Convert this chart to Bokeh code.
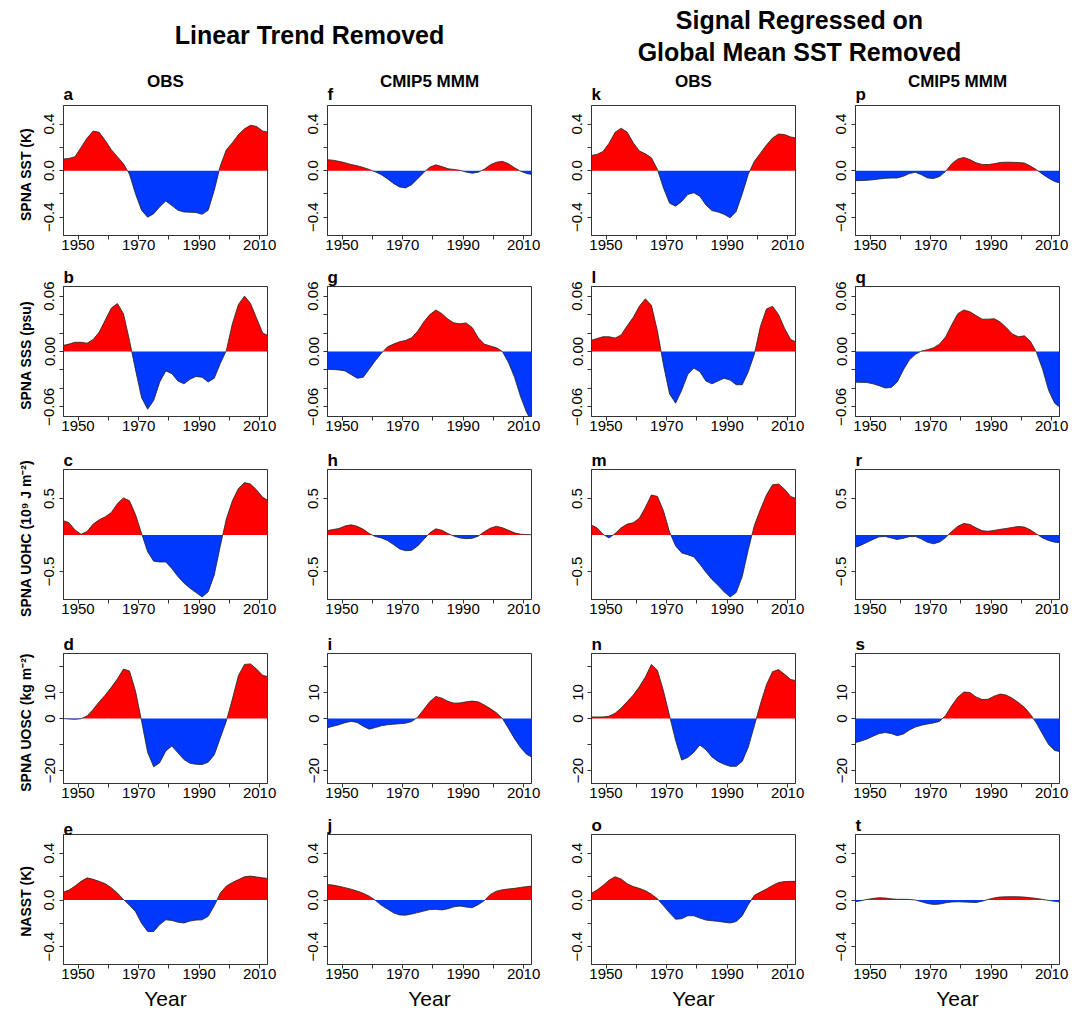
import json
import numpy as np
from bokeh.plotting import figure
from bokeh.models import Range1d, FixedTicker, CustomJSTickFormatter
from bokeh.layouts import column, row
from bokeh.embed import file_html
from bokeh.resources import INLINE
from bokeh.core.properties import value

FONT = "Liberation Sans"
RED = "#FF0000"
BLUE = "#0038FF"

years = list(range(1945, 2014, 2))

# ---- Linear trend removed: OBS ----
a_sst_obs = [0.10, 0.105, 0.12, 0.20, 0.28, 0.34, 0.33, 0.26, 0.18, 0.12, 0.06, -0.03, -0.20, -0.34, -0.40, -0.37, -0.31, -0.26, -0.30, -0.34, -0.355, -0.357, -0.36, -0.375, -0.34, -0.17, 0.04, 0.18, 0.24, 0.31, 0.36, 0.39, 0.38, 0.34, 0.33]
b_sss_obs = [0.0065, 0.008, 0.010, 0.010, 0.009, 0.013, 0.021, 0.034, 0.047, 0.052, 0.041, 0.012, -0.020, -0.050, -0.0625, -0.053, -0.033, -0.021, -0.024, -0.032, -0.035, -0.030, -0.027, -0.028, -0.033, -0.029, -0.013, 0.001, 0.030, 0.051, 0.060, 0.052, 0.036, 0.020, 0.017]
c_uohc_obs = [0.20, 0.17, 0.07, 0.01, 0.05, 0.15, 0.21, 0.25, 0.31, 0.43, 0.51, 0.47, 0.28, 0.02, -0.23, -0.36, -0.37, -0.37, -0.46, -0.57, -0.66, -0.73, -0.79, -0.85, -0.78, -0.55, -0.15, 0.22, 0.47, 0.64, 0.72, 0.70, 0.62, 0.52, 0.47]
d_uosc_obs = [0.0, -0.2, -0.3, -0.1, 1.0, 3.5, 6.4, 9.0, 12.0, 15.2, 19.0, 18.3, 10.5, -1.0, -13.0, -18.6, -17.0, -12.5, -10.6, -13.2, -15.8, -17.2, -17.6, -17.7, -16.8, -14.0, -7.5, -1.0, 7.5, 16.5, 20.8, 21.0, 19.0, 16.6, 16.0]
e_nasst_obs = [0.066, 0.085, 0.12, 0.16, 0.19, 0.178, 0.16, 0.14, 0.105, 0.06, 0.005, -0.045, -0.10, -0.20, -0.27, -0.27, -0.21, -0.17, -0.175, -0.19, -0.197, -0.18, -0.172, -0.17, -0.14, -0.05, 0.06, 0.12, 0.15, 0.175, 0.20, 0.205, 0.198, 0.19, 0.185]

# ---- Linear trend removed: CMIP5 MMM ----
f_sst_mmm = [0.095, 0.09, 0.08, 0.068, 0.053, 0.042, 0.028, 0.01, -0.01, -0.035, -0.07, -0.11, -0.14, -0.148, -0.12, -0.07, -0.015, 0.03, 0.05, 0.035, 0.017, 0.01, 0.003, -0.012, -0.022, -0.013, 0.012, 0.05, 0.073, 0.08, 0.06, 0.025, -0.005, -0.024, -0.034]
g_sss_mmm = [-0.0193, -0.0195, -0.020, -0.021, -0.025, -0.029, -0.028, -0.019, -0.010, -0.002, 0.005, 0.008, 0.0105, 0.012, 0.015, 0.022, 0.032, 0.040, 0.045, 0.041, 0.035, 0.031, 0.030, 0.031, 0.026, 0.015, 0.008, 0.006, 0.004, 0.0, -0.012, -0.028, -0.049, -0.066, -0.078]
h_uohc_mmm = [0.06, 0.075, 0.09, 0.125, 0.14, 0.12, 0.08, 0.02, -0.02, -0.04, -0.075, -0.13, -0.19, -0.215, -0.21, -0.15, -0.06, 0.03, 0.085, 0.065, 0.02, -0.015, -0.04, -0.05, -0.045, -0.015, 0.045, 0.095, 0.12, 0.1, 0.065, 0.03, 0.012, 0.006, 0.005]
i_uosc_mmm = [-3.6, -3.0, -2.4, -1.6, -1.1, -1.5, -3.0, -4.1, -3.5, -2.8, -2.4, -2.2, -2.0, -1.8, -1.2, 0.5, 3.5, 6.5, 8.5, 7.8, 6.6, 5.9, 6.0, 6.4, 6.7, 6.4, 5.2, 3.8, 2.2, 0.0, -3.8, -7.8, -11.2, -13.8, -15.0]
j_nasst_mmm = [0.133, 0.128, 0.118, 0.106, 0.093, 0.077, 0.058, 0.033, -0.002, -0.045, -0.078, -0.11, -0.128, -0.13, -0.12, -0.108, -0.095, -0.082, -0.08, -0.085, -0.075, -0.058, -0.052, -0.06, -0.066, -0.04, -0.005, 0.048, 0.076, 0.088, 0.095, 0.1, 0.108, 0.115, 0.12]

# ---- Global-mean-SST signal removed: OBS ----
k_sst_obs = [0.13, 0.14, 0.165, 0.235, 0.33, 0.365, 0.33, 0.24, 0.17, 0.145, 0.11, 0.01, -0.15, -0.28, -0.305, -0.265, -0.205, -0.19, -0.22, -0.295, -0.343, -0.355, -0.375, -0.405, -0.35, -0.2, -0.03, 0.08, 0.15, 0.22, 0.28, 0.315, 0.31, 0.29, 0.28]
l_sss_obs = [0.012, 0.014, 0.016, 0.016, 0.0145, 0.018, 0.028, 0.037, 0.049, 0.057, 0.05, 0.022, -0.015, -0.046, -0.056, -0.042, -0.025, -0.018, -0.022, -0.032, -0.035, -0.032, -0.029, -0.031, -0.036, -0.036, -0.022, -0.003, 0.027, 0.046, 0.049, 0.04, 0.025, 0.013, 0.01]
m_uohc_obs = [0.14, 0.10, 0.01, -0.04, 0.02, 0.10, 0.15, 0.17, 0.23, 0.38, 0.55, 0.53, 0.33, 0.04, -0.15, -0.245, -0.27, -0.30, -0.40, -0.51, -0.61, -0.69, -0.78, -0.85, -0.79, -0.57, -0.2, 0.13, 0.35, 0.55, 0.69, 0.70, 0.63, 0.53, 0.5]
n_uosc_obs = [0.6, 0.6, 0.6, 0.9, 2.0, 4.0, 6.5, 9.0, 12.2, 16.0, 20.8, 18.5, 10.5, 1.0, -8.5, -16.0, -15.0, -13.0, -10.2, -12.0, -14.8, -16.5, -17.6, -18.4, -18.4, -16.5, -11.0, -2.8, 5.5, 13.0, 18.0, 18.8, 17.0, 15.0, 14.5]
o_nasst_obs = [0.055, 0.085, 0.125, 0.17, 0.20, 0.18, 0.14, 0.115, 0.10, 0.08, 0.05, 0.01, -0.05, -0.11, -0.165, -0.16, -0.135, -0.135, -0.155, -0.172, -0.178, -0.183, -0.19, -0.197, -0.185, -0.135, -0.04, 0.04, 0.068, 0.095, 0.125, 0.15, 0.158, 0.16, 0.16]

# ---- Global-mean-SST signal removed: CMIP5 MMM ----
p_sst_mmm = [-0.086, -0.085, -0.083, -0.078, -0.071, -0.066, -0.063, -0.063, -0.048, -0.025, -0.014, -0.035, -0.062, -0.068, -0.05, -0.005, 0.06, 0.1, 0.114, 0.095, 0.068, 0.054, 0.052, 0.06, 0.07, 0.073, 0.072, 0.07, 0.066, 0.04, 0.008, -0.03, -0.065, -0.093, -0.108]
q_sss_mmm = [-0.0333, -0.0334, -0.0337, -0.035, -0.037, -0.0395, -0.039, -0.033, -0.02, -0.009, -0.003, 0.0005, 0.002, 0.004, 0.008, 0.016, 0.029, 0.041, 0.045, 0.043, 0.039, 0.035, 0.035, 0.0355, 0.032, 0.026, 0.019, 0.016, 0.017, 0.011, -0.001, -0.019, -0.042, -0.056, -0.061]
r_uohc_mmm = [-0.17, -0.14, -0.1, -0.06, -0.025, -0.02, -0.04, -0.062, -0.045, -0.022, -0.02, -0.055, -0.1, -0.12, -0.095, -0.035, 0.05, 0.12, 0.16, 0.145, 0.1, 0.06, 0.052, 0.064, 0.078, 0.09, 0.105, 0.118, 0.11, 0.07, 0.015, -0.04, -0.075, -0.098, -0.105]
s_uosc_mmm = [-9.3, -8.7, -7.9, -6.8, -5.8, -5.4, -5.8, -6.6, -6.0, -4.4, -3.3, -2.6, -2.1, -1.7, -1.1, 1.2, 5.0, 8.2, 10.2, 10.0, 8.3, 7.3, 7.4, 8.6, 9.4, 9.0, 7.8, 6.2, 4.3, 1.6, -1.8, -6.0, -10.0, -12.3, -12.8]
t_nasst_mmm = [-0.016, -0.006, 0.005, 0.014, 0.02, 0.017, 0.01, 0.006, 0.006, 0.005, 0.0, -0.015, -0.03, -0.038, -0.035, -0.024, -0.017, -0.015, -0.017, -0.019, -0.022, -0.01, 0.005, 0.018, 0.026, 0.028, 0.029, 0.028, 0.025, 0.02, 0.014, 0.005, -0.003, -0.011, -0.018]

panel_letters = [["a", "f", "k", "p"], ["b", "g", "l", "q"], ["c", "h", "m", "r"],
                 ["d", "i", "n", "s"], ["e", "j", "o", "t"]]
panel_data = [[a_sst_obs, f_sst_mmm, k_sst_obs, p_sst_mmm],
              [b_sss_obs, g_sss_mmm, l_sss_obs, q_sss_mmm],
              [c_uohc_obs, h_uohc_mmm, m_uohc_obs, r_uohc_mmm],
              [d_uosc_obs, i_uosc_mmm, n_uosc_obs, s_uosc_mmm],
              [e_nasst_obs, j_nasst_mmm, o_nasst_obs, t_nasst_mmm]]
row_ylabels = ["SPNA  SST  (K)", "SPNA  SSS  (psu)", "SPNA  UOHC  (10\u2079 J m\u207B\u00B2)",
               "SPNA  UOSC  (kg m\u207B\u00B2)", "NASST  (K)"]
row_ylims = [(-0.557, 0.56), (-0.0704, 0.0704), (-0.885, 0.9), (-25.0, 25.0), (-0.553, 0.562)]
row_yticks = [[-0.4, -0.2, 0, 0.2, 0.4], [-0.06, -0.04, -0.02, 0, 0.02, 0.04, 0.06],
              [-0.5, 0.5], [-20, -10, 0, 10, 20], [-0.4, -0.2, 0, 0.2, 0.4]]
row_yticklabels = [["\u22120.4", "", "0.0", "", "0.4"],
                   ["\u22120.06", "", "", "0.00", "", "", "0.06"],
                   ["\u22120.5", "0.5"],
                   ["\u221220", "", "0", "10", ""],
                   ["\u22120.4", "", "0.0", "", "0.4"]]
xticks = [1950, 1960, 1970, 1980, 1990, 2000, 2010]
xticklabels = ["1950", "", "1970", "", "1990", "", "2010"]
col_headers = ["OBS", "CMIP5 MMM", "OBS", "CMIP5 MMM"]
title_left = "Linear Trend Removed"
title_right = ["Signal Regressed on", "Global Mean SST Removed"]

XLIM = (1945.2, 2012.6)
FW, FH = 204, 130
col_lr = [(63, 10), (50, 10), (50, 10), (50, 10)]
row_tb = [(1, 24), (27, 24), (29, 24), (30, 24), (27, 48)]
HEAD_H = 104


def fmt(ticks, labels):
    m = {str(int(round(t * 1000))): l for t, l in zip(ticks, labels)}
    return CustomJSTickFormatter(code="const m = %s; const k = String(Math.round(tick*1000)); return (k in m) ? m[k] : '';" % json.dumps(m))


def split_zero(x, y):
    xs, ys = [x[0]], [y[0]]
    for i in range(1, len(x)):
        y0, y1 = y[i - 1], y[i]
        if y0 * y1 < 0:
            xs.append(x[i - 1] + (x[i] - x[i - 1]) * y0 / (y0 - y1))
            ys.append(0.0)
        xs.append(x[i])
        ys.append(y[i])
    return np.array(xs, dtype=float), np.array(ys, dtype=float)


total_w = sum(l + FW + r for l, r in col_lr)

# header: big titles, column headers and the first row's panel letters (pixel coordinates)
head = figure(frame_width=total_w, frame_height=HEAD_H, x_range=Range1d(0, total_w), y_range=Range1d(0, HEAD_H),
              x_axis_type=None, y_axis_type=None, toolbar_location=None, output_backend="svg",
              min_border=0, outline_line_color=None)
head.grid.visible = False


def hy(page_y):
    return HEAD_H - page_y


head.text(x=[309], y=[hy(34)], text=[title_left], text_font=value(FONT), text_font_style="bold",
          text_font_size="25px", text_align="center", text_baseline="middle", text_color="black")
head.text(x=[799, 799], y=[hy(19), hy(51)], text=title_right, text_font=value(FONT), text_font_style="bold",
          text_font_size="25px", text_align="center", text_baseline="middle", text_color="black")
centers, lefts = [], []
xpos = 0
for l, r in col_lr:
    centers.append(xpos + l + FW / 2)
    lefts.append(xpos + l)
    xpos += l + FW + r
head.text(x=centers, y=[hy(81)] * 4, text=col_headers, text_font=value(FONT), text_font_style="bold",
          text_font_size="17px", text_align="center", text_baseline="middle", text_color="black")
head.text(x=lefts, y=[hy(94)] * 4, text=panel_letters[0], text_font=value(FONT), text_font_style="bold",
          text_font_size="17px", text_align="left", text_baseline="middle", text_color="black")

rows = []
for ri in range(5):
    figs = []
    for ci in range(4):
        l, r = col_lr[ci]
        t, b = row_tb[ri]
        p = figure(frame_width=FW, frame_height=FH, x_range=Range1d(*XLIM), y_range=Range1d(*row_ylims[ri]),
                   toolbar_location=None, output_backend="svg",
                   min_border_left=l, min_border_right=r, min_border_top=t, min_border_bottom=b)
        p.grid.visible = False
        p.outline_line_color = "#333333"
        p.outline_line_width = 1
        if ri > 0:
            p.title.text = panel_letters[ri][ci]
            p.title.text_font = FONT
            p.title.text_font_size = "17px"
            p.title.text_font_style = "bold"
            p.title.text_color = "black"
            p.title.align = "left"
            p.title.standoff = 0
            p.title.offset = 0

        xs, ys = split_zero(np.array(years, dtype=float), np.array(panel_data[ri][ci], dtype=float))
        p.varea(x=xs, y1=np.zeros_like(ys), y2=np.maximum(ys, 0), fill_color=RED)
        p.varea(x=xs, y1=np.zeros_like(ys), y2=np.minimum(ys, 0), fill_color=BLUE)
        p.line(xs, ys, line_color="#222222", line_width=0.8)

        for ax in (p.xaxis[0], p.yaxis[0]):
            ax.axis_line_color = "#333333"
            ax.major_tick_line_color = "#333333"
            ax.major_tick_out = 4
            ax.major_tick_in = 0
            ax.minor_tick_line_color = None
            ax.major_label_text_font = FONT
            ax.major_label_text_font_size = "15px"
            ax.major_label_text_color = "black"
        p.xaxis.ticker = FixedTicker(ticks=xticks)
        p.xaxis.formatter = fmt(xticks, xticklabels)
        p.xaxis.major_label_standoff = 0
        p.yaxis.ticker = FixedTicker(ticks=row_yticks[ri])
        p.yaxis.formatter = fmt(row_yticks[ri], row_yticklabels[ri])
        p.yaxis.major_label_orientation = "vertical"
        p.yaxis.major_label_standoff = 5
        if ci == 0:
            p.yaxis.axis_label = row_ylabels[ri]
            p.yaxis.axis_label_text_font = FONT
            p.yaxis.axis_label_text_font_size = "14px"
            p.yaxis.axis_label_text_font_style = "bold"
            p.yaxis.axis_label_text_color = "black"
            p.yaxis.axis_label_standoff = 8
        if ri == 4:
            p.xaxis.axis_label = "Year"
            p.xaxis.axis_label_text_font = FONT
            p.xaxis.axis_label_text_font_size = "21px"
            p.xaxis.axis_label_text_font_style = "normal"
            p.xaxis.axis_label_text_color = "black"
            p.xaxis.axis_label_standoff = 5
        figs.append(p)
    rows.append(row(*figs, spacing=0))

layout = column(head, *rows, spacing=0)
open("out.html", "w").write(file_html(layout, INLINE))
